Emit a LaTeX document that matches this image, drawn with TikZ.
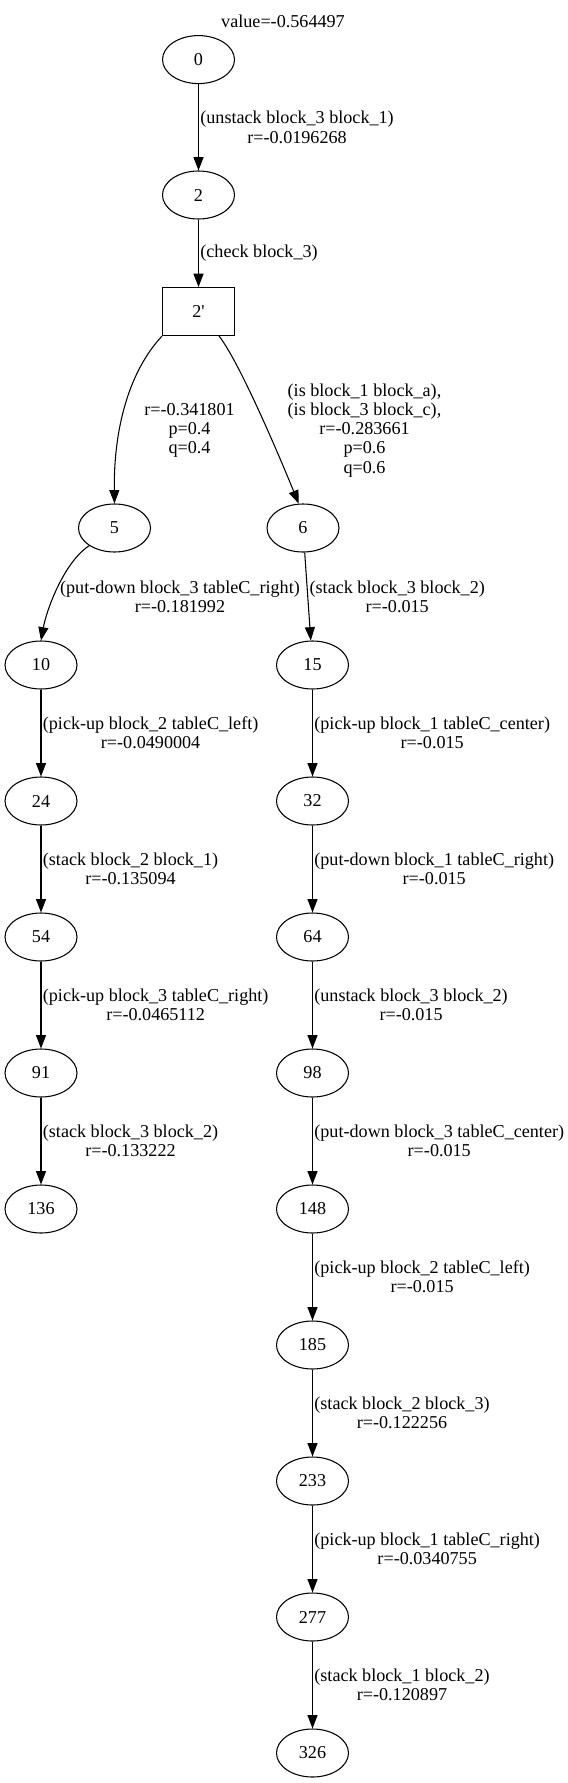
\documentclass[tikz,border=0pt]{standalone}
\usepackage{fontspec}
\setmainfont{Liberation Serif}
\usetikzlibrary{arrows.meta,shapes.geometric}
\tikzset{state/.style={ellipse,draw=black,line width=0.8pt,minimum width=54pt,minimum height=36pt,inner sep=0pt}}
\tikzset{chance/.style={rectangle,draw=black,line width=0.8pt,minimum width=54pt,minimum height=36pt,inner sep=0pt}}
\tikzset{act/.style={align=center,inner sep=1pt}}
\tikzset{tr/.style={-{Triangle[length=10pt,width=7.5pt]},line width=0.8pt}}
\newcommand{\gvsize}{\fontsize{13.6}{14.4}\selectfont}

\begin{document}
\begin{tikzpicture}[x=0.75pt,y=-0.75pt,font=\gvsize]
\useasboundingbox (0,0) rectangle (567,1783);
\node (val) at (283,21) {value=-0.564497};
\node (n0) [state] at (198.5,59.6) {0};
\node (n2) [state] at (198.5,195) {2};
\node (b2p) [chance] at (198.5,311.6) {2\textquotesingle};
\node (n5) [state] at (114.5,528) {5};
\node (n6) [state] at (303,528) {6};
% left branch
\node (n10) [state] at (41,665) {10};
\node (n24) [state] at (41,801) {24};
\node (n54) [state] at (41,937) {54};
\node (n91) [state] at (41,1073) {91};
\node (n136) [state] at (41,1209) {136};
% right branch
\node (n15) [state] at (312.5,665) {15};
\node (n32) [state] at (312.5,801) {32};
\node (n64) [state] at (312.5,937) {64};
\node (n98) [state] at (312.5,1073) {98};
\node (n148) [state] at (312.5,1209) {148};
\node (n185) [state] at (312.5,1345) {185};
\node (n233) [state] at (312.5,1481) {233};
\node (n277) [state] at (312.5,1617) {277};
\node (n326) [state] at (312.5,1753) {326};
%
\path[tr](n0) edge node[act,anchor=west] {(unstack block\_3 block\_1)\\r=-0.0196268} (n2);
\path[tr](n2) edge node[act,anchor=west] {(check block\_3)} (b2p);
\draw[tr](b2p.south west) .. controls (128.5,372) and (113.5,430) .. (n5.north);
\node (l5) [act] at (189.5,430.4) {r=-0.341801\\p=0.4\\q=0.4};
\draw[tr](b2p.-50) .. controls (241,364) and (285,470) .. (n6.100);
\node (l6) [act] at (364.5,430.4) {(is block\_1 block\_a),\\(is block\_3 block\_c),\\r=-0.283661\\p=0.6\\q=0.6};
%
\draw[tr](n5.215) .. controls (64,562) and (46.5,610) .. (n10.north);
\node (l10) [act,anchor=west] at (58.5,596.5) {(put-down block\_3 tableC\_right)\\r=-0.181992};
\path[tr](n10) edge node[act,anchor=west] {(pick-up block\_2 tableC\_left)\\r=-0.0490004} (n24);
\path[tr](n24) edge node[act,anchor=west] {(stack block\_2 block\_1)\\r=-0.135094} (n54);
\path[tr](n54) edge node[act,anchor=west] {(pick-up block\_3 tableC\_right)\\r=-0.0465112} (n91);
\path[tr](n91) edge node[act,anchor=west] {(stack block\_3 block\_2)\\r=-0.133222} (n136);
%
\path[tr](n6) edge node[act,anchor=west] {(stack block\_3 block\_2)\\r=-0.015} (n15);
\path[tr](n15) edge node[act,anchor=west] {(pick-up block\_1 tableC\_center)\\r=-0.015} (n32);
\path[tr](n32) edge node[act,anchor=west] {(put-down block\_1 tableC\_right)\\r=-0.015} (n64);
\path[tr](n64) edge node[act,anchor=west] {(unstack block\_3 block\_2)\\r=-0.015} (n98);
\path[tr](n98) edge node[act,anchor=west] {(put-down block\_3 tableC\_center)\\r=-0.015} (n148);
\path[tr](n148) edge node[act,anchor=west] {(pick-up block\_2 tableC\_left)\\r=-0.015} (n185);
\path[tr](n185) edge node[act,anchor=west] {(stack block\_2 block\_3)\\r=-0.122256} (n233);
\path[tr](n233) edge node[act,anchor=west] {(pick-up block\_1 tableC\_right)\\r=-0.0340755} (n277);
\path[tr](n277) edge node[act,anchor=west] {(stack block\_1 block\_2)\\r=-0.120897} (n326);
\end{tikzpicture}
\end{document}
